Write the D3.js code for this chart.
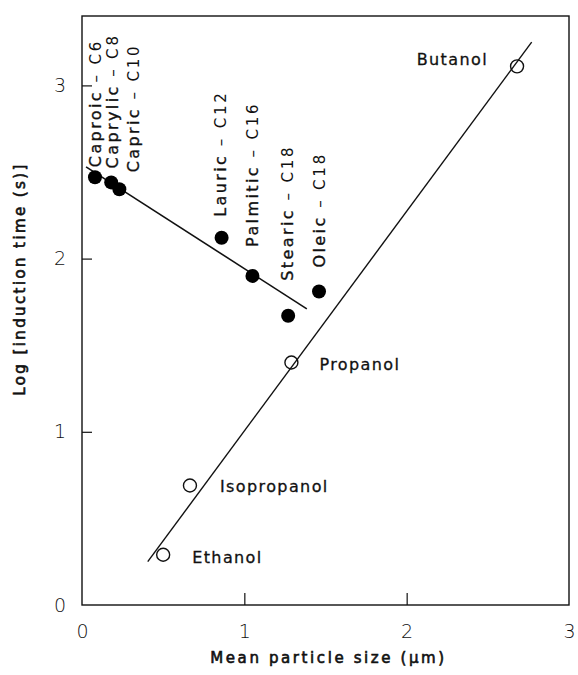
<!DOCTYPE html>
<html><head><meta charset="utf-8">
<script src="https://cdn.jsdelivr.net/npm/d3@7"></script>
<style>
html,body{margin:0;padding:0;background:#fff;}
svg{display:block;}
text{font-family:"DejaVu Sans",sans-serif;fill:#111;}
</style></head>
<body><svg id="c" width="578" height="675"></svg>
<script>
// ---- data ----
const fattyNames = ["Caproic","Caprylic","Capric","Lauric","Palmitic","Stearic","Oleic"];
const fattyCarbons = ["C6","C8","C10","C12","C16","C18","C18"];
const fattyX = [0.08,0.18,0.23,0.86,1.05,1.27,1.46];
const fattyY = [2.47,2.44,2.40,2.12,1.90,1.67,1.81];
const alcoholNames = ["Ethanol","Isopropanol","Propanol","Butanol"];
const alcoholX = [0.50,0.665,1.29,2.68];
const alcoholY = [0.29,0.69,1.40,3.11];
const fattyFitX = [0.025,1.385];
const fattyFitY = [2.53,1.71];
const alcoholFitX = [0.405,2.77];
const alcoholFitY = [0.25,3.25];
const xTicks = [0,1,2,3];
const yTicks = [0,1,2,3];
const xTitle = "Mean particle size  (\u00b5m)";
const yTitle = "Log [induction time (s)]";

// ---- layout (label offsets in px, separate from data) ----
const fattyLabelOff = [[0,10],[1,14],[14,17],[-1,21],[0,29],[-1,35],[0,24]];
const alcoholLabelOff = [[29,8,"start"],[30,7,"start"],[28,7,"start"],[-29,-1,"end"]];

const svg = d3.select("#c");
const L=82,R=569,T=16,B=605;
const x = d3.scaleLinear().domain([0,3]).range([L,R]);
const y = d3.scaleLinear().domain([0,3]).range([B,B-3*173.2]);

// frame
svg.append("rect").attr("x",L).attr("y",T).attr("width",R-L).attr("height",B-T)
  .attr("fill","none").attr("stroke","#111").attr("stroke-width",1.4);

// axes with inward ticks
const xAxis = d3.axisBottom(x).tickValues(xTicks).tickSize(-12).tickPadding(20).tickFormat(d3.format("d"));
const gx = svg.append("g").attr("transform",`translate(0,${B})`).call(xAxis);
gx.select(".domain").remove();
gx.selectAll(".tick line").attr("stroke","#111").attr("stroke-width",1.2);
gx.selectAll(".tick text").attr("font-size",19).attr("fill","#333")
  .style("font-family","DejaVu Sans, sans-serif").style("font-weight","200");
gx.selectAll(".tick").filter(d=>d===0||d===3).select("line").remove();

const yAxis = d3.axisLeft(y).tickValues(yTicks).tickSize(-10).tickPadding(16).tickFormat(d3.format("d"));
const gy = svg.append("g").attr("transform",`translate(${L},0)`).call(yAxis);
gy.select(".domain").remove();
gy.selectAll(".tick line").attr("stroke","#111").attr("stroke-width",1.2);
gy.selectAll(".tick text").attr("font-size",19).attr("fill","#333")
  .style("font-family","DejaVu Sans, sans-serif").style("font-weight","200");
gy.selectAll(".tick").filter(d=>d===0).select("line").remove();

// fit lines
const line = d3.line().x(d=>x(d[0])).y(d=>y(d[1]));
svg.append("path").datum(d3.zip(fattyFitX,fattyFitY)).attr("d",line)
  .attr("stroke","#111").attr("stroke-width",1.6).attr("fill","none");

// fatty acid points
const fatty = fattyNames.map((n,i)=>({n,c:fattyCarbons[i],x:fattyX[i],y:fattyY[i],o:fattyLabelOff[i]}));
svg.selectAll(".fa").data(fatty).enter().append("circle")
  .attr("cx",d=>x(d.x)).attr("cy",d=>y(d.y)).attr("r",7).attr("fill","#000");

// alcohol points
const alc = alcoholNames.map((n,i)=>({n,x:alcoholX[i],y:alcoholY[i],o:alcoholLabelOff[i]}));
svg.selectAll(".al").data(alc).enter().append("circle")
  .attr("cx",d=>x(d.x)).attr("cy",d=>y(d.y)).attr("r",6.5)
  .attr("fill","#fff").attr("stroke","#111").attr("stroke-width",1.4);
// alcohol line drawn over the open circles (passes through them)
svg.append("path").datum(d3.zip(alcoholFitX,alcoholFitY)).attr("d",line)
  .attr("stroke","#111").attr("stroke-width",1.4).attr("fill","none");

// fatty acid labels (rotated)
const fl = svg.selectAll(".fl").data(fatty).enter().append("text")
  .attr("transform",d=>`translate(${x(d.x)+d.o[0]},${y(d.y)-d.o[1]}) rotate(-90)`)
  .attr("dy","0.36em").attr("text-anchor","start");
fl.append("tspan").text(d=>d.n).attr("font-size",16).attr("letter-spacing",2.4)
  .attr("stroke","#111").attr("stroke-width",0.35);
fl.append("tspan").text(d=>" \u2013 "+d.c).attr("font-size",15).attr("letter-spacing",2.8)
  .attr("fill","#111");

// alcohol labels
svg.selectAll(".alt").data(alc).enter().append("text")
  .attr("x",d=>x(d.x)+d.o[0]).attr("y",d=>y(d.y)+d.o[1])
  .attr("text-anchor",d=>d.o[2])
  .attr("font-size",16).attr("letter-spacing",1.4)
  .attr("stroke","#111").attr("stroke-width",0.3).text(d=>d.n);

// axis titles
svg.append("text").attr("x",(L+R)/2+3).attr("y",663).attr("text-anchor","middle")
  .attr("font-size",15).attr("letter-spacing",2.6)
  .attr("stroke","#111").attr("stroke-width",0.6).text(xTitle);
svg.append("text").attr("transform","translate(20,279) rotate(-90)").attr("dy","0.35em")
  .attr("text-anchor","middle").attr("font-size",15).attr("letter-spacing",2.4)
  .attr("stroke","#111").attr("stroke-width",0.6).text(yTitle);
</script></body></html>
